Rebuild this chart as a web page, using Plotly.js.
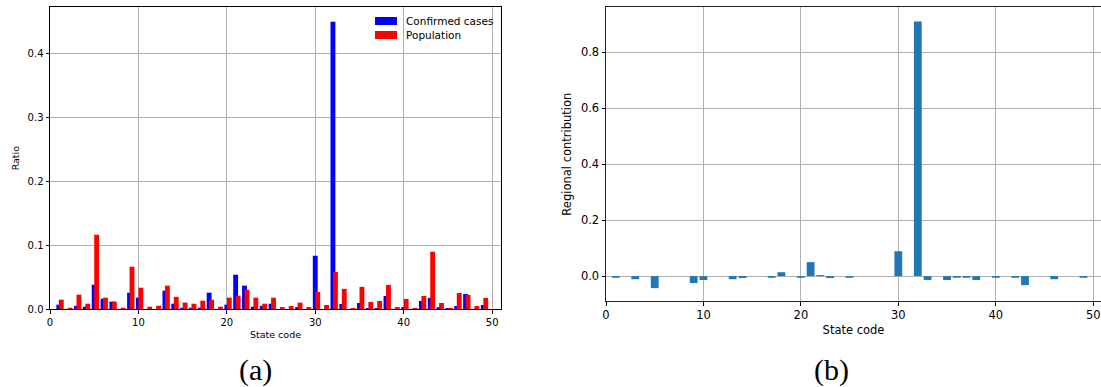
<!DOCTYPE html>
<html>
<head>
<meta charset="utf-8">
<script src="https://cdn.plot.ly/plotly-3.0.1.min.js"></script>
<style>html,body{margin:0;padding:0;background:#fff;}#chart{width:1101px;height:387px;}</style>
</head>
<body>
<div id="chart"></div>
<script>
// State codes 1..49
const stateCodes = [1,2,3,4,5,6,7,8,9,10,11,12,13,14,15,16,17,18,19,20,21,22,23,24,25,26,27,28,29,30,31,32,33,34,35,36,37,38,39,40,41,42,43,44,45,46,47,48,49];

// (a) ratio of confirmed cases per state
const confirmedRatio = [0.0068,0,0.005,0.0036,0.038,0.016,0.0115,0,0.0255,0.0177,
  0,0,0.0286,0.0083,0.002,0.002,0.002,0.0255,0,0.0068,
  0.0536,0.0365,0.0036,0.005,0.0083,0,0,0.003,0,0.0832,
  0,0.449,0.0079,0,0.0094,0.0016,0.0016,0.0204,0,0.003,
  0,0.0126,0.0173,0.003,0.0016,0.0047,0.0235,0,0.0063];

// (a) ratio of population per state
const populationRatio = [0.0146,0.002,0.0224,0.0083,0.116,0.0177,0.0115,0.002,0.066,0.0333,
  0.0036,0.005,0.0365,0.019,0.01,0.0083,0.013,0.0146,0.0036,0.0177,
  0.0208,0.030,0.0177,0.0083,0.0177,0.003,0.0047,0.01,0.003,0.0267,
  0.0063,0.058,0.0314,0.0016,0.0346,0.011,0.0126,0.0377,0.003,0.0157,
  0.0016,0.0204,0.0895,0.0094,0.0016,0.025,0.022,0.0047,0.0173];

// (b) regional contribution per state
const regionalContribution = [-0.006,0,-0.011,0,-0.043,0,0,0,-0.025,-0.014,
  0,0,-0.011,-0.007,0,0,-0.006,0.014,0,-0.006,
  0.050,0.0036,-0.007,0,-0.006,0,0,0,0,0.089,
  0,0.91,-0.014,0,-0.014,-0.006,-0.006,-0.014,0,-0.006,
  0,-0.006,-0.032,0,0,-0.011,0,0,-0.006];

const xTicks = [0,10,20,30,40,50];
const yTicksA = [0,0.1,0.2,0.3,0.4];
const yTicksB = [0,0.2,0.4,0.6,0.8];
const captions = ['(a)','(b)'];
const legendLabels = ['Confirmed cases','Population'];
const legendColors = ['#0000ff','#ff0000'];

const W = 1101, H = 387;
const fx = p => p / W;
const fy = p => (H - p) / H;

const traces = [
  {type:'bar', x: stateCodes, y: confirmedRatio, name: legendLabels[0],
   marker:{color: legendColors[0], line:{width:0}}, width:0.55, offset:-0.28,
   xaxis:'x', yaxis:'y', hoverinfo:'x+y'},
  {type:'bar', x: stateCodes, y: populationRatio, name: legendLabels[1],
   marker:{color: legendColors[1], line:{width:0}}, width:0.55, offset:0.0,
   xaxis:'x', yaxis:'y', hoverinfo:'x+y'},
  {type:'bar', x: stateCodes, y: regionalContribution, name:'Regional contribution',
   marker:{color:'#1f77b4', line:{width:0}}, width:0.8,
   xaxis:'x2', yaxis:'y2', hoverinfo:'x+y'}
];

const gridCol = '#b0b0b0';
const axisCommon = {
  showgrid:true, gridcolor:gridCol, gridwidth:1, zeroline:false,
  showline:true, linecolor:'#000', linewidth:1,
  ticks:'outside', ticklen:3.5, tickwidth:1, tickcolor:'#000',
  tickfont:{family:'DejaVu Sans', size:10, color:'#000'}
};

// Frameless legend drawn like matplotlib's (wide patches, tight rows)
const legendShapes = [], legendAnn = [];
legendLabels.forEach((lab, i) => {
  const yc = 21 + 14 * i;
  legendShapes.push({type:'rect', xref:'paper', yref:'paper',
    x0: fx(375), x1: fx(397), y0: fy(yc + 4), y1: fy(yc - 4),
    fillcolor: legendColors[i], line:{width:0}});
  legendAnn.push({text: lab, xref:'paper', yref:'paper', x: fx(404), y: fy(yc),
    xanchor:'left', yanchor:'middle', showarrow:false,
    font:{family:'DejaVu Sans', size:10.5, color:'#000'}});
});

const layout = {
  width: W, height: H,
  margin:{l:0, r:0, t:0, b:0},
  paper_bgcolor:'#fff', plot_bgcolor:'#fff',
  barmode:'overlay',
  font:{family:'DejaVu Sans', color:'#000'},
  showlegend:false,
  xaxis: Object.assign({}, axisCommon, {
    domain:[fx(50), fx(501)], range:[0, 51], anchor:'y',
    tickvals: xTicks, mirror:true,
    title:{text:'State code', font:{family:'DejaVu Sans', size:9.5, color:'#000'}, standoff:4}
  }),
  yaxis: Object.assign({}, axisCommon, {
    domain:[fy(309), fy(7.3)], range:[0, 0.4714], anchor:'x',
    tickvals: yTicksA, tickformat:'.1f', mirror:true,
    title:{text:'Ratio', font:{family:'DejaVu Sans', size:9.5, color:'#000'}, standoff:6}
  }),
  xaxis2: Object.assign({}, axisCommon, {
    domain:[fx(606), 1], range:[0, 50.8], anchor:'y2',
    tickvals: xTicks, mirror:true, linecolor:'#222',
    tickfont:{family:'DejaVu Sans', size:11.5, color:'#000'},
    title:{text:'State code', font:{family:'DejaVu Sans', size:11.5, color:'#000'}, standoff:4}
  }),
  yaxis2: Object.assign({}, axisCommon, {
    domain:[fy(301), fy(7.3)], range:[-0.089, 0.961], anchor:'x2',
    tickvals: yTicksB, tickformat:'.1f', mirror:false, linecolor:'#222',
    tickfont:{family:'DejaVu Sans', size:11.5, color:'#000'},
    title:{text:'Regional contribution', font:{family:'DejaVu Sans', size:11.5, color:'#000'}, standoff:6}
  }),
  shapes: legendShapes,
  annotations: legendAnn.concat([
    {text: captions[0], xref:'paper', yref:'paper', x: fx(255), y: fy(370), xanchor:'center', yanchor:'middle',
     showarrow:false, font:{family:'Liberation Serif', size:30, color:'#000'}},
    {text: captions[1], xref:'paper', yref:'paper', x: fx(832), y: fy(370), xanchor:'center', yanchor:'middle',
     showarrow:false, font:{family:'Liberation Serif', size:30, color:'#000'}}
  ])
};

Plotly.newPlot('chart', traces, layout, {staticPlot:true, displayModeBar:false});
</script>
</body>
</html>
